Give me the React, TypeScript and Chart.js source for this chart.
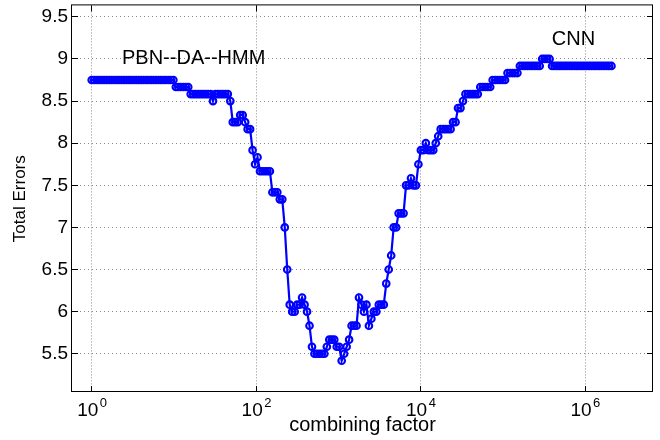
import React, { useEffect, useRef } from "react";
import { Chart, registerables } from "chart.js";

Chart.register(...registerables);

// combining factor values (x), one per evaluated point
const FACTORS = [
  1, 1.072, 1.149, 1.231, 1.32, 1.414, 1.516, 1.625, 1.741, 1.866,
  2, 2.144, 2.297, 2.462, 2.639, 2.828, 3.031, 3.249, 3.482, 3.732,
  4, 4.287, 4.595, 4.925, 5.278, 5.657, 6.063, 6.498, 6.964, 7.464,
  8, 8.574, 9.19, 9.849, 10.56, 11.31, 12.13, 13, 13.93, 14.93,
  16, 17.15, 18.38, 19.7, 21.11, 22.63, 24.25, 25.99, 27.86, 29.86,
  32, 34.3, 36.76, 39.4, 42.22, 45.25, 48.5, 51.98, 55.72, 59.71,
  64, 68.59, 73.52, 78.79, 84.45, 90.51, 97.01, 104, 111.4, 119.4,
  128, 137.2, 147, 157.6, 168.9, 181, 194, 207.9, 222.9, 238.9,
  256, 274.4, 294.1, 315.2, 337.8, 362, 388, 415.9, 445.7, 477.7,
  512, 548.7, 588.1, 630.3, 675.6, 724.1, 776, 831.7, 891.4, 955.4,
  1024, 1097, 1176, 1261, 1351, 1448, 1552, 1663, 1783, 1911,
  2048, 2195, 2353, 2521, 2702, 2896, 3104, 3327, 3566, 3822,
  4096, 4390, 4705, 5043, 5405, 5793, 6208, 6654, 7132, 7643,
  8192, 8780, 9410, 10085, 10809, 11585, 12417, 13308, 14263, 15287,
  16384, 17560, 18820, 20171, 21619, 23170, 24834, 26616, 28526, 30574,
  32768, 35120, 37641, 40342, 43238, 46341, 49667, 53232, 57052, 61147,
  65536, 70240, 75281, 80684, 86475, 92682, 99334, 106464, 114105, 122295,
  131072, 140479, 150562, 161369, 172951, 185364, 198668, 212927, 228210, 244589,
  262144, 280959, 301124, 322737, 345901, 370728, 397336, 425854, 456419, 489178,
  524288, 561918, 602249, 645474, 691802, 741455, 794672, 851708, 912838, 978356,
  1048576, 1123836, 1204498, 1290948, 1383604, 1482910, 1589344, 1703416, 1825676, 1956712,
  2097152,
];

// total errors (y)
const TOTAL_ERRORS = [
  8.75, 8.75, 8.75, 8.75, 8.75, 8.75, 8.75, 8.75, 8.75, 8.75,
  8.75, 8.75, 8.75, 8.75, 8.75, 8.75, 8.75, 8.75, 8.75, 8.75,
  8.75, 8.75, 8.75, 8.75, 8.75, 8.75, 8.75, 8.75, 8.75, 8.75,
  8.75, 8.75, 8.75, 8.75, 8.667, 8.667, 8.667, 8.667, 8.667, 8.667,
  8.583, 8.583, 8.583, 8.583, 8.583, 8.583, 8.583, 8.583, 8.583, 8.5,
  8.583, 8.583, 8.583, 8.583, 8.583, 8.583, 8.5, 8.25, 8.25, 8.25,
  8.333, 8.333, 8.25, 8.167, 8.167, 7.917, 7.75, 7.833, 7.667, 7.667,
  7.667, 7.667, 7.667, 7.417, 7.417, 7.417, 7.333, 7.333, 7.0, 6.5,
  6.083, 6.0, 6.0, 6.083, 6.083, 6.167, 6.083, 6.0, 5.833, 5.583,
  5.5, 5.5, 5.5, 5.5, 5.5, 5.583, 5.667, 5.667, 5.667, 5.583,
  5.583, 5.417, 5.5, 5.583, 5.667, 5.833, 5.833, 5.833, 6.167, 6.083,
  6.0, 6.083, 5.833, 5.917, 6.0, 6.0, 6.083, 6.083, 6.083, 6.333,
  6.5, 6.667, 7.0, 7.0, 7.167, 7.167, 7.167, 7.5, 7.5, 7.583,
  7.5, 7.5, 7.75, 7.917, 7.917, 8.0, 7.917, 7.917, 7.917, 8.0,
  8.083, 8.167, 8.167, 8.167, 8.167, 8.167, 8.25, 8.25, 8.417, 8.417,
  8.5, 8.583, 8.583, 8.583, 8.583, 8.583, 8.583, 8.667, 8.667, 8.667,
  8.667, 8.667, 8.75, 8.75, 8.75, 8.75, 8.75, 8.75, 8.833, 8.833,
  8.833, 8.833, 8.833, 8.917, 8.917, 8.917, 8.917, 8.917, 8.917, 8.917,
  8.917, 8.917, 9.0, 9.0, 9.0, 9.0, 8.917, 8.917, 8.917, 8.917,
  8.917, 8.917, 8.917, 8.917, 8.917, 8.917, 8.917, 8.917, 8.917, 8.917,
  8.917, 8.917, 8.917, 8.917, 8.917, 8.917, 8.917, 8.917, 8.917, 8.917,
  8.917,
];

const X_TICKS = [1, 100, 10000, 1000000];
const X_TICK_BASE = "10";
const X_TICK_EXPONENTS = ["0", "2", "4", "6"];
const Y_TICKS = [5.5, 6, 6.5, 7, 7.5, 8, 8.5, 9, 9.5];

const X_MIN = 0.576;
const X_MAX = 6.71e6;
const Y_MIN = 5.046;
const Y_MAX = 9.636;

const ANNOTATION_TEXTS = ["PBN--DA--HMM", "CNN"];
const ANNOTATION_X = [2.336, 394000];
const ANNOTATION_Y = [8.936, 9.162];

const X_TITLE = "combining factor";
const Y_TITLE = "Total Errors";

const FONT = '"Liberation Sans", Arial, Helvetica, sans-serif';
const TICK_SIZE = 19;
const SUP_SIZE = 13;
const LABEL_SHIFT = -4;
const GRID_COLOR = "#8a8a8a";
const LINE_COLOR = "#0000ff";

const decorPlugin = {
  id: "matlabDecor",
  afterDraw(chart: any) {
    const { ctx, chartArea } = chart;
    const { left, right, top, bottom } = chartArea;
    const xs = chart.scales.x;
    const ys = chart.scales.y;
    const align = (p: number) => Math.round(p - 0.5) + 0.5;
    ctx.save();
    ctx.setLineDash([]);
    ctx.strokeStyle = "#000";
    ctx.lineWidth = 1;
    ctx.strokeRect(left - 0.5, top - 0.5, right - left, bottom - top);
    ctx.beginPath();
    X_TICKS.forEach((v) => {
      const px = align(xs.getPixelForValue(v));
      ctx.moveTo(px, bottom);
      ctx.lineTo(px, bottom - 6);
      ctx.moveTo(px, top);
      ctx.lineTo(px, top + 6);
    });
    Y_TICKS.forEach((v) => {
      const py = align(ys.getPixelForValue(v));
      ctx.moveTo(left, py);
      ctx.lineTo(left + 6, py);
      ctx.moveTo(right, py);
      ctx.lineTo(right - 6, py);
    });
    ctx.stroke();

    // exponents of the 10^n tick labels
    ctx.fillStyle = "#000";
    ctx.font = `${TICK_SIZE}px ${FONT}`;
    const baseW = ctx.measureText(X_TICK_BASE).width;
    ctx.font = `${SUP_SIZE}px ${FONT}`;
    ctx.textAlign = "left";
    ctx.textBaseline = "alphabetic";
    X_TICKS.forEach((v, i) => {
      const px = xs.getPixelForValue(v) + LABEL_SHIFT + baseW / 2 + 1.5;
      ctx.fillText(X_TICK_EXPONENTS[i], px, bottom + 15);
    });

    // text annotations
    ctx.font = `20px ${FONT}`;
    ANNOTATION_TEXTS.forEach((t, i) => {
      ctx.fillText(t, xs.getPixelForValue(ANNOTATION_X[i]), ys.getPixelForValue(ANNOTATION_Y[i]));
    });
    ctx.restore();
  },
};

export default function App() {
  const ref = useRef<HTMLCanvasElement>(null);
  useEffect(() => {
    if (!ref.current) return;
    const chart = new Chart(ref.current, {
      type: "line",
      data: {
        datasets: [
          {
            data: FACTORS.map((f, i) => ({ x: f, y: TOTAL_ERRORS[i] })),
            borderColor: LINE_COLOR,
            borderWidth: 2.2,
            pointRadius: 3.3,
            pointHoverRadius: 3.3,
            pointBorderWidth: 2.1,
            pointBorderColor: LINE_COLOR,
            pointBackgroundColor: "rgba(0,0,0,0)",
            tension: 0,
            fill: false,
          },
        ],
      },
      options: {
        animation: false,
        responsive: false,
        devicePixelRatio: 1,
        events: [],
        layout: { padding: { left: 0, top: 5, right: 7, bottom: 0 } },
        plugins: {
          legend: { display: false },
          tooltip: { enabled: false },
          title: { display: false },
        },
        scales: {
          x: {
            type: "logarithmic",
            position: "bottom",
            min: X_MIN,
            max: X_MAX,
            bounds: "data",
            afterBuildTicks: (s: any) => {
              s.ticks = X_TICKS.map((v) => ({ value: v }));
            },
            afterFit: (s: any) => {
              s.height = 48;
              s.paddingLeft = 0;
              s.paddingRight = 0;
            },
            ticks: {
              callback: () => X_TICK_BASE,
              font: { family: FONT, size: TICK_SIZE },
              color: "#000",
              padding: 7,
              labelOffset: LABEL_SHIFT,
              maxRotation: 0,
              autoSkip: false,
            },
            grid: { color: GRID_COLOR, lineWidth: 1, drawTicks: false },
            border: { display: false, dash: [1, 2] },
            title: {
              display: true,
              text: X_TITLE,
              font: { family: FONT, size: 20 },
              color: "#000",
              padding: { top: 0, bottom: 3 },
            },
          },
          y: {
            type: "linear",
            min: Y_MIN,
            max: Y_MAX,
            bounds: "data",
            afterBuildTicks: (s: any) => {
              s.ticks = Y_TICKS.map((v) => ({ value: v }));
            },
            afterFit: (s: any) => {
              s.width = 72;
              s.paddingTop = 0;
              s.paddingBottom = 0;
            },
            ticks: {
              callback: (v: any) => String(v),
              font: { family: FONT, size: TICK_SIZE },
              color: "#000",
              padding: 4,
              autoSkip: false,
            },
            grid: { color: GRID_COLOR, lineWidth: 1, drawTicks: false },
            border: { display: false, dash: [1, 3] },
            title: {
              display: true,
              text: Y_TITLE,
              font: { family: FONT, size: 17 },
              color: "#000",
              padding: { top: 10, bottom: 0 },
            },
          },
        },
      },
      plugins: [decorPlugin],
    });
    return () => chart.destroy();
  }, []);
  return (
    <div style={{ position: "absolute", left: 0, top: 0, width: 660, height: 440, background: "#fff" }}>
      <canvas ref={ref} width={660} height={440} style={{ display: "block", width: 660, height: 440 }} />
    </div>
  );
}
